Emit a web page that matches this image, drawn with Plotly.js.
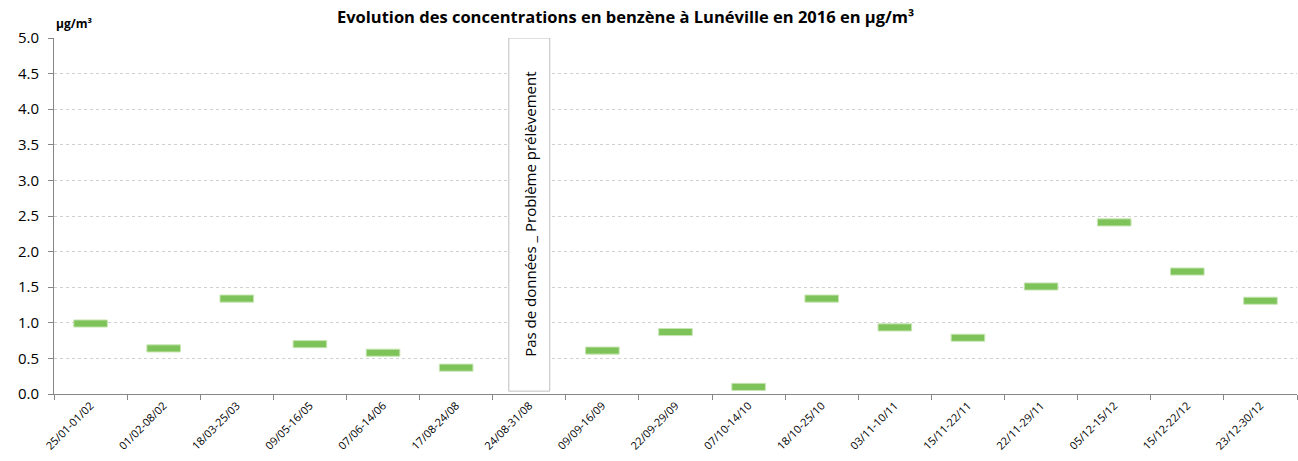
<!DOCTYPE html>
<html>
<head>
<meta charset="utf-8">
<script src="https://cdn.plot.ly/plotly-3.0.1.min.js"></script>
<style>html,body{margin:0;padding:0;background:#fff;}#chart{width:1298px;height:461px;}</style>
</head>
<body>
<div id="chart"></div>
<script>
const periods = ["25/01-01/02","01/02-08/02","18/03-25/03","09/05-16/05","07/06-14/06","17/08-24/08","24/08-31/08","09/09-16/09","22/09-29/09","07/10-14/10","18/10-25/10","03/11-10/11","15/11-22/11","22/11-29/11","05/12-15/12","15/12-22/12","23/12-30/12"];
const benzene = [0.99, 0.64, 1.34, 0.70, 0.58, 0.37, null, 0.61, 0.87, 0.10, 1.34, 0.935, 0.79, 1.51, 2.41, 1.72, 1.31];
const yTicks = [0, 0.5, 1, 1.5, 2, 2.5, 3, 3.5, 4, 4.5, 5];
const missingLabel = "Pas de données _ Problème prélèvement";
const missingPeriod = "24/08-31/08";

const markH = 0.1;
const trace = {
  type: "bar",
  x: periods,
  y: benzene.map(v => v === null ? null : markH),
  base: benzene.map(v => v === null ? null : v - markH / 2),
  width: 0.46,
  marker: {color: "#7EC35A", line: {color: "#C8E6B4", width: 1}},
  hoverinfo: "skip"
};

const missIdx = periods.indexOf(missingPeriod);

const layout = {
  width: 1298, height: 461,
  margin: {l: 54, r: 1, t: 38, b: 67},
  paper_bgcolor: "#fff", plot_bgcolor: "#fff",
  showlegend: false,
  font: {family: "Open Sans, Liberation Sans, sans-serif", color: "#000"},
  title: {
    text: "<b>Evolution des concentrations en benzène à Lunéville en 2016 en µg/m³</b>",
    font: {size: 16.5, family: "Open Sans, Liberation Sans, sans-serif", color: "#000"},
    x: 0.482, xanchor: "center", y: 0.962, yanchor: "middle"
  },
  xaxis: {
    type: "category",
    range: [-0.5, periods.length - 0.5],
    tickangle: -45,
    tickfont: {size: 11},
    showgrid: false,
    showline: true, linecolor: "#868686", linewidth: 1,
    ticks: "outside", tickson: "boundaries", ticklen: 5, tickcolor: "#868686",
    zeroline: false
  },
  yaxis: {
    range: [0, 5],
    tickvals: yTicks,
    ticktext: yTicks.map(v => v.toFixed(1)),
    tickfont: {size: 15},
    ticklabelstandoff: 6,
    showgrid: true, gridcolor: "#D0D0D0", griddash: "dot", gridwidth: 1,
    showline: true, linecolor: "#868686", linewidth: 1,
    ticks: "outside", ticklen: 5, tickcolor: "#868686",
    zeroline: false
  },
  shapes: [{
    type: "rect", xref: "x", yref: "y",
    x0: missIdx - 0.28, x1: missIdx + 0.28, y0: 0.04, y1: 5.0,
    line: {color: "#BFBFBF", width: 1}, fillcolor: "#fff", layer: "above"
  }],
  annotations: [
    {
      text: missingLabel, xref: "x", yref: "y", x: missIdx, y: 2.52,
      textangle: -90, showarrow: false, font: {size: 15, color: "#000"}
    },
    {
      text: "<b>µg/m³</b>", xref: "paper", yref: "paper", x: 0.0, y: 1.0,
      xshift: 0, yshift: 4, xanchor: "left", yanchor: "bottom",
      showarrow: false, font: {size: 12, color: "#000"}
    }
  ]
};

Plotly.newPlot("chart", [trace], layout, {displayModeBar: false, staticPlot: true});
</script>
</body>
</html>
